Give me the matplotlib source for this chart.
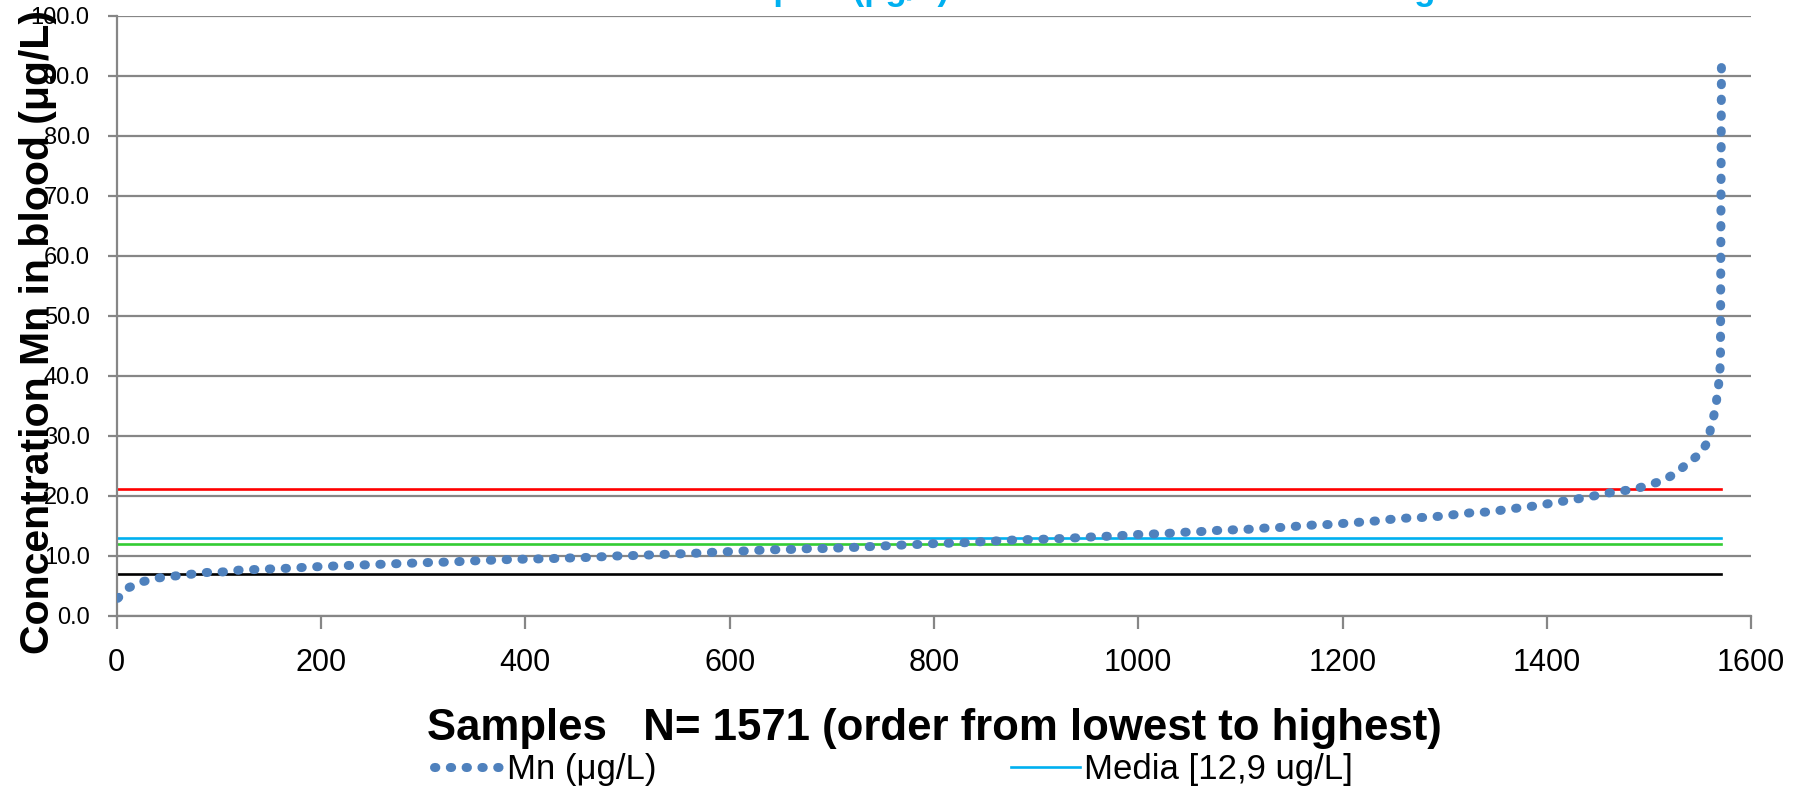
import matplotlib
matplotlib.use("Agg")
import matplotlib.pyplot as plt
from matplotlib.lines import Line2D

plt.rcParams['font.family'] = ['Liberation Sans', 'DejaVu Sans']

# sorted Mn values (sample rank, ug/L)
samples = [1, 12, 26, 41, 56, 72, 88, 104, 120, 136, 151, 167, 183, 200, 216, 231,
           247, 263, 279, 295, 311, 327, 343, 358, 374, 390, 406, 422, 438, 454, 470,
           485, 501, 517, 533, 549, 565, 581, 597, 613, 628, 644, 660, 676, 692, 708,
           724, 740, 756, 771, 787, 803, 819, 835, 851, 867, 883, 899, 915, 930, 946,
           962, 979, 994, 1011, 1027, 1043, 1059, 1075, 1091, 1107, 1123, 1138, 1154,
           1170, 1186, 1202, 1218, 1233, 1249, 1265, 1281, 1297, 1312, 1328, 1344,
           1360, 1376, 1391, 1407, 1422, 1438, 1453, 1469, 1484, 1499, 1514, 1527,
           1538, 1550, 1558, 1561, 1565, 1567, 1569, 1570, 1571]
mn_values = [2.9, 4.7, 5.7, 6.3, 6.6, 6.9, 7.2, 7.3, 7.6, 7.7, 7.8, 7.9, 8.05, 8.2, 8.3, 8.4,
             8.5, 8.6, 8.7, 8.8, 8.9, 8.95, 9.1, 9.2, 9.3, 9.4, 9.45, 9.5, 9.6, 9.67, 9.78,
             9.94, 10.0, 10.1, 10.2, 10.3, 10.4, 10.55, 10.67, 10.78, 10.9, 11.0, 11.05, 11.17, 11.2, 11.3,
             11.4, 11.55, 11.67, 11.8, 11.9, 12.05, 12.1, 12.2, 12.4, 12.5, 12.67, 12.7, 12.8, 12.9, 13.05,
             13.2, 13.3, 13.5, 13.6, 13.7, 13.9, 14.0, 14.2, 14.3, 14.4, 14.6, 14.7, 14.9,
             15.1, 15.2, 15.4, 15.6, 15.8, 16.1, 16.3, 16.4, 16.6, 16.9, 17.2, 17.3,
             17.7, 18.05, 18.35, 18.85, 19.25, 19.7, 20.2, 20.75, 21.0, 21.75, 22.55, 23.85,
             25.45, 27.0, 29.1, 31.8, 34.3, 37.0, 39.6, 42.4, 93.8]

n_samples = 1571
media = 12.9
ref_lines = {"red": 21.2, "#00B0F0": media, "#33CC33": 11.9, "black": 7.0}

x_ticks = [0, 200, 400, 600, 800, 1000, 1200, 1400, 1600]
y_ticks = [0, 10, 20, 30, 40, 50, 60, 70, 80, 90, 100]

grid_col = "#868686"
blue = "#4F81BD"
dots = dict(lw=6.5, dashes=(0.15, 1.6), dash_capstyle='round')

fig = plt.figure(figsize=(17.96, 8), dpi=100)
ax = fig.add_axes([0.065, 0.2304, 0.91, 0.7496])

for col, val in ref_lines.items():
    ax.plot([1, n_samples], [val, val], color=col, lw=1.9, zorder=2)

ax.plot(samples, mn_values, color=blue, zorder=3, **dots)

ax.set_xlim(0, 1600)
ax.set_ylim(0, 100)
ax.set_xticks(x_ticks)
ax.set_yticks(y_ticks)
ax.set_yticklabels(["{:.1f}".format(v) for v in y_ticks])
ax.grid(axis='y', color=grid_col, lw=1.6)
ax.set_axisbelow(True)
for side in ("top", "right"):
    ax.spines[side].set_visible(False)
for side in ("left", "bottom"):
    ax.spines[side].set_color(grid_col)
    ax.spines[side].set_linewidth(1.6)
ax.tick_params(axis='x', colors=grid_col, length=9, width=1.6, labelsize=22,
               labelcolor='black', pad=14)
ax.tick_params(axis='y', colors=grid_col, length=6.5, width=1.6, labelsize=17,
               labelcolor='black', pad=13)

ax.set_xlabel("Samples   N= 1571 (order from lowest to highest)", fontsize=31.5,
              fontweight='bold', va='baseline')
ax.xaxis.set_label_coords(0.5, -0.208)
ax.set_ylabel("Concentration Mn in blood (μg/L)", fontsize=29.5, fontweight='bold')
ax.yaxis.set_label_coords(-0.0366, 0.473)

fig.text(0.4872, 1.0, "Concentration of Mn in blood samples (μg/L) and reference limits for the general",
         color="#00B0F0", fontsize=25, fontweight='bold', ha='center', va='baseline')

handles = [Line2D([], [], color=blue, **dots),
           Line2D([], [], color="#00B0F0", lw=1.9)]
fig.legend(handles, ["Mn (μg/L)", "Media [12,9 ug/L]"], loc='center left',
           bbox_to_anchor=(0.2322, 0.0375), ncol=2, frameon=False, fontsize=25,
           handlelength=2.0, handletextpad=0.1, columnspacing=10.2, borderpad=0)

fig.savefig("out.png", dpi=100)
